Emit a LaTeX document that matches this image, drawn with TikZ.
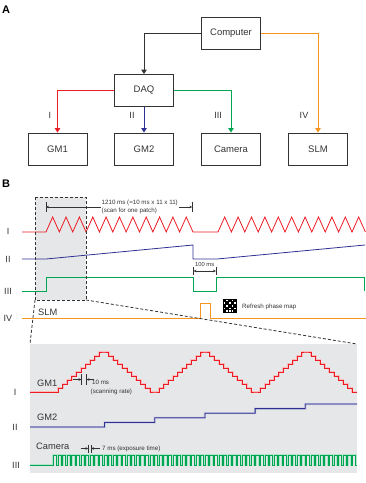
\documentclass[tikz,border=0pt]{standalone}
\usepackage{fontspec}
\setmainfont{Liberation Sans}
\usetikzlibrary{arrows.meta}
\definecolor{cred}{HTML}{ED1C24}
\definecolor{cblue}{HTML}{2E3192}
\definecolor{cgreen}{HTML}{00A651}
\definecolor{corange}{HTML}{F7941D}
\definecolor{cgrayfill}{HTML}{E6E7E8}
\definecolor{cdark}{HTML}{333333}
\begin{document}
\begin{tikzpicture}[x=1pt,y=-1pt,
  box/.style={draw=cdark, line width=0.9pt, minimum width=59pt, minimum height=32pt, inner sep=0pt, font=\fontsize{9.5}{11}\selectfont, text=cdark},
  conn/.style={line width=0.9pt, -{Triangle[width=5.5pt,length=4.5pt]}},
  roman/.style={font=\fontsize{9}{10}\selectfont, text=cdark, inner sep=0pt},
  paneltag/.style={font=\bfseries\fontsize{11}{12}\selectfont, text=black, inner sep=0pt},
  sigtxt/.style={font=\fontsize{9.3}{10}\selectfont, text=cdark, inner sep=0pt},
  sig/.style={line width=0.8pt},
  sigb/.style={line width=0.8pt, preaction={draw=#1!30, line width=2pt}},
  small/.style={font=\fontsize{6.2}{7.4}\selectfont, text=cdark, inner sep=0pt},
  zoomline/.style={draw=cdark, line width=0.8pt, dash pattern=on 3pt off 2pt},
  dimbar/.style={draw=cdark, line width=0.7pt},
  dimarrow/.style={draw=cdark, line width=0.5pt, -{Stealth[length=3pt,width=2.6pt]}},
]
\useasboundingbox (0,0) rectangle (366,483);

% ---------------- Panel A ----------------
\node[paneltag] (tagA) at (6,10) {A};
\node[box] (comp) at (231,33) {Computer};
\node[box] (daq) at (144,90.5) {DAQ};
\node[box] (gm1) at (57.5,149) {GM1};
\node[box] (gm2) at (144,149) {GM2};
\node[box] (cam) at (231,149) {Camera};
\node[box] (slm) at (318,149) {SLM};

\draw[conn, color=cdark] (comp.west) -| (daq.north);
\draw[conn, color=corange] (comp.east) -| (slm.north);
\draw[conn, color=cred] (daq.west) -| (gm1.north);
\draw[conn, color=cblue] (daq.south) -- (gm2.north);
\draw[conn, color=cgreen] (daq.east) -| (cam.north);

\node[roman] (rA1) at (50,115) {I};
\node[roman] (rA2) at (132,115) {II};
\node[roman] (rA3) at (218,115) {III};
\node[roman] (rA4) at (304,115) {IV};

% ---------------- Panel B ----------------
\node[paneltag] (tagB) at (6,184) {B};

\coordinate (zTL) at (35,197);
\coordinate (zBR) at (86,300);
\coordinate (zBL) at (35,300);
\coordinate (pTL) at (30,344);
\coordinate (pTR) at (357,344);
\fill[cgrayfill] (zTL) rectangle (zBR);
\fill[cgrayfill] (pTL) rectangle (357,473);

% left labels
\node[roman] (rB1) at (8,231) {I};
\node[roman] (rB2) at (8,259) {II};
\node[roman] (rB3) at (8,291) {III};
\node[roman] (rB4) at (8,318) {IV};

% signals, overview
\draw[sig, cred] (22,232) -- (46,232)
  \foreach \k in {0,...,10} { -- ++(6.68,-15) -- ++(6.68,15) }
  -- (218,232)
  \foreach \k in {0,...,10} { -- ++(6.7,-15) -- ++(6.7,15) };
\draw[sig, cblue] (22,259) -- (46,259) -- (193,245) -- (193,259) -- (217,259) -- (365,245);
\draw[sig, cgreen] (22,291) -- (46,291) -- (46,277) -- (193,277) -- (193,291) -- (216,291) -- (216,277) -- (364,277) -- (364,291);
\draw[sig, corange] (22,318) -- (200.7,318) -- (200.7,303) -- (210.5,303) -- (210.5,318) -- (366,318);

% zoom box
\draw[zoomline] (zTL) rectangle (zBR);
\draw[zoomline] (zBL) -- (pTL);
\draw[zoomline] (zBR) -- (pTR);

\node[sigtxt, anchor=west] (slmtxt) at (38,312) {SLM};

% 1210 ms annotation
\coordinate (sb1t) at (46,201.7);
\coordinate (sb1b) at (46,212.3);
\coordinate (sb2t) at (192.3,201.7);
\coordinate (sb2b) at (192.3,212.3);
\coordinate (sb1) at (46,207);
\coordinate (sb2) at (192.3,207);
\draw[dimbar] (sb1t) -- (sb1b);
\draw[dimbar] (sb2t) -- (sb2b);
\node[small, anchor=west, align=left] (scan) at (101.5,207) {1210 ms (=10 ms x 11 x 11)\\(scan for one patch)};
\draw[dimarrow, shorten <=1pt] (scan.west) -- (sb1);
\draw[dimarrow, shorten <=1pt] (scan.east) -- (sb2);

% 100 ms annotation
\coordinate (hb1t) at (193.5,266.5);
\coordinate (hb1b) at (193.5,275);
\coordinate (hb2t) at (216,266.5);
\coordinate (hb2b) at (216,275);
\coordinate (hb1) at (193.5,271);
\coordinate (hb2) at (216,271);
\draw[dimbar] (hb1t) -- (hb1b);
\draw[dimbar] (hb2t) -- (hb2b);
\draw[draw=cdark, line width=0.5pt, {Stealth[length=3pt,width=2.6pt]}-{Stealth[length=3pt,width=2.6pt]}] (hb1) -- (hb2);
\node[small, font=\fontsize{5.8}{7}\selectfont] (t100) at (204.7,264.5) {100 ms};

% refresh icon
\fill[black] (223.3,299.3) rectangle (236.7,312.7);
\foreach \cx/\cy in {1/0,3/0,0/1,2/1,4/1,1/2,3/2,0/3,2/3,4/3,1/4,3/4,2/4}{
  \fill[white] ({223.3+0.4+\cx*2.6},{299.3+0.4+\cy*2.6}) rectangle ++(1.6,1.6);
}
\node[small, anchor=west] (refresh) at (242,306.5) {Refresh phase map};

% ---------------- zoomed signals ----------------
\node[roman] (rC1) at (15,392) {I};
\node[roman] (rC2) at (15,427) {II};
\node[roman] (rC3) at (16,465) {III};

\node[sigtxt, anchor=west] (gm1txt) at (37,383) {GM1};
\node[sigtxt, anchor=west] (gm2txt) at (37,417.3) {GM2};
\node[sigtxt, anchor=west] (camtxt) at (36,446.7) {Camera};

% GM1 staircase
\draw[sigb=cred, cred] (30,392) -- (58,392)
  \foreach \p in {1,2} {
    \foreach \i in {1,...,10} { -- ++(0,-4) -- ++(4.6,0) }
    -- ++(4.6,0)
    \foreach \i in {1,...,10} { -- ++(0,4) -- ++(4.6,0) }
    -- ++(4.6,0)
  }
  \foreach \i in {1,...,10} { -- ++(0,-4) -- ++(4.6,0) }
  -- ++(4.6,0)
  \foreach \i in {1,...,10} { -- ++(0,4) -- ++(4.6,0) };

% GM2 steps
\draw[sigb=cblue, cblue] (30,427) -- (104.5,427)
  \foreach \k in {1,...,4} { -- ++(0,-4.6) -- ++(50.2,0) }
  -- ++(0,-4.6) -- (357,404);

% Camera pulses
\draw[sigb=cgreen, cgreen] (30,465) -- (53.4,465)
  \foreach \k in {1,...,66} { -- ++(0,-10) -- ++(3.2,0) -- ++(0,10) -- ++(1.4,0) };

% 10 ms annotation
\coordinate (tb1t) at (81.5,374);
\coordinate (tb1b) at (81.5,385);
\coordinate (tb2t) at (86.5,374);
\coordinate (tb2b) at (86.5,385);
\coordinate (tb1) at (81.5,379.5);
\coordinate (tb2) at (86.5,379.5);
\coordinate (ta1) at (73,379.5);
\coordinate (ta2) at (94,379.5);
\draw[dimbar] (tb1t) -- (tb1b);
\draw[dimbar] (tb2t) -- (tb2b);
\draw[dimarrow] (ta1) -- (tb1);
\draw[dimarrow] (ta2) -- (tb2);
\node[small, font=\fontsize{6.2}{8.4}\selectfont, anchor=west, align=left] (t10) at (90.5,387.5) {\hspace{1.5pt}10 ms\\(scanning rate)};

% 7 ms annotation
\coordinate (eb1t) at (88.3,444.5);
\coordinate (eb1b) at (88.3,452.5);
\coordinate (eb2t) at (91,444.5);
\coordinate (eb2b) at (91,452.5);
\coordinate (eb1) at (88.3,448.5);
\coordinate (eb2) at (91,448.5);
\coordinate (ea1) at (80.7,448.5);
\coordinate (ea2) at (99.5,448.5);
\draw[dimbar] (eb1t) -- (eb1b);
\draw[dimbar] (eb2t) -- (eb2b);
\draw[dimarrow] (ea1) -- (eb1);
\draw[dimarrow] (ea2) -- (eb2);
\node[small, anchor=west] (t7) at (102,448.5) {7 ms (exposure time)};
\end{tikzpicture}
\end{document}
